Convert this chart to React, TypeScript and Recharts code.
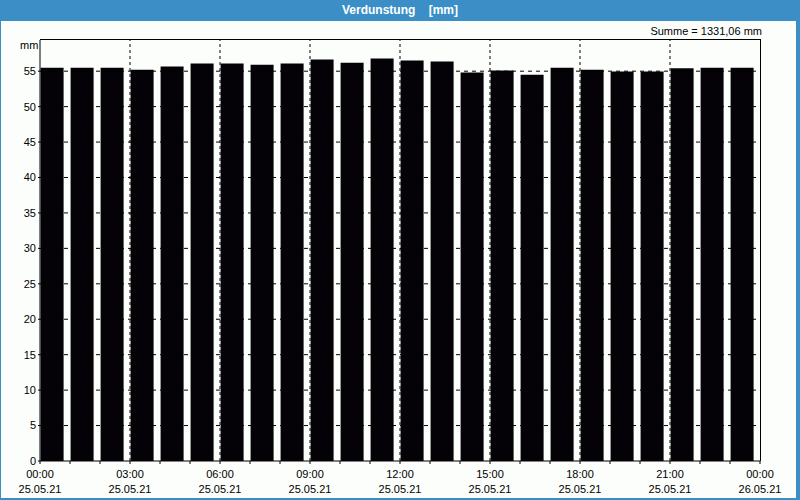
import React from 'react';
import { BarChart, Bar, XAxis, YAxis, ReferenceLine } from 'recharts';

// hourly evaporation, 25.05.21 00:00 .. 23:00
const hours = [0, 1, 2, 3, 4, 5, 6, 7, 8, 9, 10, 11, 12, 13, 14, 15, 16, 17, 18, 19, 20, 21, 22, 23];
const evaporation = [
  55.5, 55.5, 55.5, 55.2, 55.65, 56.1, 56.1, 55.9, 56.1, 56.65, 56.2, 56.8,
  56.5, 56.35, 54.8, 55.1, 54.5, 55.5, 55.2, 54.95, 54.95, 55.4, 55.5, 55.5,
];
const xTicks = [0, 1, 2, 3, 4, 5, 6, 7, 8, 9, 10, 11, 12, 13, 14, 15, 16, 17, 18, 19, 20, 21, 22, 23, 24];
const xLabels: Record<number, [string, string]> = {
  0: ['00:00', '25.05.21'],
  3: ['03:00', '25.05.21'],
  6: ['06:00', '25.05.21'],
  9: ['09:00', '25.05.21'],
  12: ['12:00', '25.05.21'],
  15: ['15:00', '25.05.21'],
  18: ['18:00', '25.05.21'],
  21: ['21:00', '25.05.21'],
  24: ['00:00', '26.05.21'],
};
const gridHours = [3, 6, 9, 12, 15, 18, 21];
const yTicks = [0, 5, 10, 15, 20, 25, 30, 35, 40, 45, 50, 55];
const Y_MAX = 59.4;

const FONT = '"Liberation Sans", Arial, sans-serif';
const BLUE = '#3b8fc6';

// bars sit a little left of the hour centre in the original
const data = hours.map((h, i) => ({ x: h + 0.42, value: evaporation[i] }));

const HourTick = (props: any) => {
  const { x, y, payload } = props;
  const lbl = xLabels[payload.value];
  if (!lbl) return null;
  return (
    <g>
      <text x={x} y={y + 12} textAnchor="middle" fontSize={11} fontFamily={FONT} fill="#000">
        {lbl[0]}
      </text>
      <text x={x} y={y + 27} textAnchor="middle" fontSize={11} fontFamily={FONT} fill="#000">
        {lbl[1]}
      </text>
    </g>
  );
};

const App: React.FC = () => {
  return (
    <div style={{ position: 'absolute', left: 0, top: 0, width: 800, height: 500, background: BLUE, fontFamily: FONT }}>
      <div
        style={{
          position: 'absolute', left: 0, top: 0, width: 800, height: 21,
          color: '#fff', fontWeight: 'bold', fontSize: 12, lineHeight: '21px',
          textAlign: 'center', whiteSpace: 'pre',
        }}
      >
        {'Verdunstung    [mm]'}
      </div>
      <div style={{ position: 'absolute', left: 1, top: 21, width: 795, height: 477, background: '#fcfefc' }}>
        <div style={{ position: 'absolute', right: 34, top: 4, fontSize: 11, color: '#000', whiteSpace: 'nowrap' }}>
          Summe = 1331,06 mm
        </div>
        <div style={{ position: 'absolute', left: 19, top: 18, fontSize: 11, color: '#000' }}>mm</div>
        <div style={{ position: 'absolute', left: -1, top: 0 }}>
          <BarChart width={797} height={478} data={data} margin={{ top: 19, right: 37, bottom: 0, left: 0 }}>
            <XAxis
              dataKey="x"
              type="number"
              domain={[0, 24]}
              ticks={xTicks}
              interval={0}
              height={38}
              tickSize={3}
              tickMargin={2}
              stroke="#000"
              tick={<HourTick />}
            />
            <YAxis
              type="number"
              domain={[0, Y_MAX]}
              ticks={yTicks}
              interval={0}
              width={40}
              tickSize={2}
              tickMargin={2}
              stroke="#000"
              tick={{ fontSize: 11, fontFamily: FONT, fill: '#000' }}
            />
            {yTicks.slice(1).map((v) => (
              <ReferenceLine key={'y' + v} y={v} stroke="#000" strokeDasharray="4 4" />
            ))}
            {gridHours.map((t) => (
              <ReferenceLine key={'x' + t} x={t} stroke="#000" strokeDasharray="3 3" />
            ))}
            <Bar dataKey="value" fill="#040206" barSize={23} isAnimationActive={false} />
          </BarChart>
        </div>
        {/* top and right frame of the plot area */}
        <div
          style={{
            position: 'absolute', left: 39, top: 18, width: 720, height: 421,
            borderTop: '1px solid #000', borderRight: '1px solid #000', pointerEvents: 'none',
          }}
        />
      </div>
    </div>
  );
};

export default App;
